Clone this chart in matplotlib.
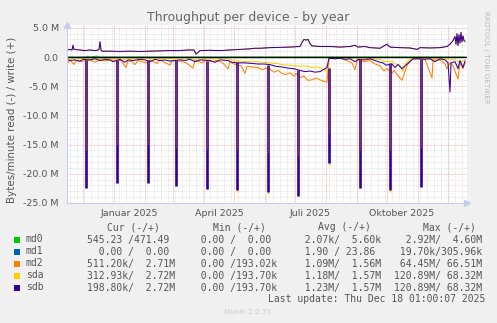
import matplotlib
matplotlib.use('Agg')
import matplotlib.pyplot as plt
import matplotlib.dates as mdates
from matplotlib.patches import Rectangle
import numpy as np

# day offsets are counted from 2024-11-14, values are in millions of bytes/minute
start_date = '2024-11-14'

# write (+): md2, sda and sdb lie on top of each other
write_days = [1, 4, 6, 7, 8, 14, 19, 24, 29, 32, 33, 34, 35, 36, 44, 54, 64, 74, 84, 94,
              104, 114, 122, 128, 130, 132, 134, 144, 154, 164, 174, 184, 189, 194, 204, 214,
              224, 234, 236, 238, 240, 242, 244, 246, 254, 264, 274, 284, 289, 292, 299, 304,
              314, 321, 324, 334, 344, 351, 354, 364, 374, 381, 384, 387, 389, 390, 391, 392,
              393, 394, 395, 396, 397, 398, 399]
write_vals = [1.2, 1.3, 1.2, 2.0, 1.3, 1.2, 1.1, 1.2, 1.1, 1.2, 1.3, 2.6, 1.2, 1.0, 1.0, 0.95,
              1.0, 0.95, 1.0, 1.05, 1.1, 1.1, 1.2, 1.2, 0.5, 0.8, 1.1, 1.15, 1.1, 1.2, 1.3, 1.4,
              1.5, 1.5, 1.6, 1.65, 1.7, 1.8, 2.5, 3.0, 2.9, 3.0, 2.3, 1.9, 1.8, 1.8, 1.7, 1.8,
              2.0, 1.7, 1.8, 1.6, 1.5, 2.2, 1.7, 1.6, 1.55, 1.3, 1.6, 1.55, 1.6, 1.8, 2.2, 2.8,
              3.5, 2.2, 4.0, 2.0, 3.8, 2.4, 4.2, 2.6, 3.6, 2.8, 2.7]

md0_days = [1, 20, 22, 24, 31, 33, 60, 200, 399]
md0_vals = [0.0, 0.0, 0.15, 0.0, 0.15, 0.0, 0.0, 0.0, 0.0]
md1_days = [1, 399]
md1_vals = [0.0, 0.0]

# read (-) baselines
md2_days = [0, 2, 4, 8, 10, 14, 24, 29, 34, 38, 44, 55, 60, 62, 66, 69, 72, 80, 84, 91, 94,
            104, 106, 114, 120, 127, 129, 136, 140, 146, 150, 156, 162, 164, 168, 175, 179,
            181, 186, 192, 196, 200, 204, 208, 212, 216, 220, 224, 228, 230, 234, 238, 242,
            246, 250, 254, 258, 261, 263, 269, 274, 279, 286, 289, 291, 299, 304, 309, 314,
            318, 321, 326, 328, 332, 336, 338, 341, 344, 349, 359, 366, 367, 374, 379, 381,
            384, 387, 392, 394, 397, 399]
md2_vals = [-0.6, -1.0, -0.5, -1.3, -0.6, -0.8, -0.5, -0.9, -0.5, -0.7, -0.5, -0.6, -1.8,
            -0.7, -0.8, -1.3, -0.6, -1.0, -0.5, -1.1, -0.5, -1.4, -0.6, -0.7, -1.0, -1.9,
            -0.6, -1.0, -0.6, -0.8, -0.6, -0.9, -2.0, -0.8, -1.2, -1.5, -2.8, -1.6, -1.7,
            -1.8, -2.2, -1.9, -2.1, -2.6, -2.3, -2.8, -3.0, -2.7, -3.3, -2.8, -3.5, -3.3,
            -4.0, -3.9, -3.6, -3.9, -4.2, -4.3, -0.2, -0.3, -0.2, -0.5, -1.0, -2.2, -0.6,
            -0.8, -0.6, -1.2, -1.5, -2.4, -2.0, -2.8, -2.3, -3.2, -4.0, -3.0, -1.5, -0.6,
            -0.3, -0.4, -3.6, -0.5, -0.5, -1.2, -2.0, -1.0, -1.5, -3.8, -1.0, -2.0, -1.0]

sda_days = [0, 9, 19, 29, 39, 47, 59, 69, 79, 89, 99, 109, 119, 129, 139, 149, 159, 166,
            174, 182, 190, 198, 204, 210, 216, 222, 228, 234, 240, 246, 252, 256, 260, 261,
            263, 274, 284, 295, 304, 314, 319, 326, 329, 334, 337, 340, 344, 349, 359, 369,
            379, 384, 389, 394, 399]
sda_vals = [-0.3, -0.2, -0.3, -0.2, -0.3, -0.2, -0.4, -0.3, -0.2, -0.3, -0.2, -0.3, -0.2,
            -0.4, -0.3, -0.3, -0.2, -0.5, -0.7, -0.8, -0.8, -0.9, -1.0, -1.1, -1.3, -1.4,
            -1.5, -1.6, -1.5, -1.8, -1.7, -2.0, -2.4, -2.6, -0.1, -0.1, -0.2, -0.2, -0.3,
            -0.4, -0.8, -0.7, -1.2, -1.4, -2.5, -1.0, -0.4, -0.2, -0.2, -0.3, -0.3, -0.5,
            -0.4, -1.0, -0.5]

sdb_days = [0, 4, 9, 14, 17, 24, 29, 34, 39, 44, 47, 54, 59, 62, 67, 74, 79, 84, 89, 94,
            99, 104, 114, 119, 124, 129, 134, 144, 149, 154, 162, 166, 172, 179, 186, 192,
            198, 204, 210, 216, 222, 228, 234, 239, 244, 249, 254, 259, 261, 263, 269, 274,
            279, 284, 289, 292, 299, 304, 309, 314, 317, 320, 326, 329, 332, 336, 339, 344,
            347, 352, 359, 364, 369, 374, 379, 382, 384, 385, 389, 392, 394, 397, 399]
sdb_vals = [-0.4, -0.6, -0.5, -0.7, -0.4, -0.5, -0.3, -0.6, -0.4, -0.5, -0.8, -0.4, -0.9,
            -0.5, -0.6, -0.4, -0.5, -0.8, -0.4, -0.6, -0.5, -0.7, -0.5, -0.6, -0.4, -0.8,
            -0.5, -0.6, -0.9, -0.5, -0.6, -0.9, -1.0, -1.0, -1.1, -1.2, -1.2, -1.3, -1.6,
            -1.7, -1.9, -2.0, -2.3, -2.5, -2.4, -2.6, -2.5, -2.0, -1.8, -0.2, -0.3, -0.2,
            -0.4, -0.3, -0.8, -0.4, -0.5, -0.3, -0.6, -0.9, -1.0, -1.4, -1.2, -1.8, -1.3,
            -2.0, -1.5, -0.8, -0.3, -0.3, -0.4, -0.3, -0.8, -0.3, -0.5, -1.0, -6.0, -1.0,
            -0.8, -2.0, -0.6, -1.8, -0.7]

# monthly read spikes (RAID check): day, level the spike starts from, depth
spike_days = [19, 50, 81, 109, 140, 170, 201, 231, 262, 293, 323, 354]
spike_base = [-0.5, -0.5, -0.5, -0.5, -0.6, -0.9, -1.3, -2.3, -1.8, -0.4, -1.0, -0.3]
sdb_spike = [-22.4, -21.6, -21.6, -22.1, -22.6, -22.8, -23.1, -23.8, -18.2, -22.4, -22.8, -22.2]
sda_spike = [-22.4, -21.6, -21.6, -22.1, -22.6, -23.1, -23.4, -23.8, -18.5, -22.4, -23.1, -22.2]
md2_spike = [-16.0, -15.0, -15.0, -15.5, -16.0, -16.0, -16.5, -17.0, -13.0, -16.0, -16.0, -15.5]

colors = {'md0': '#00CC00', 'md1': '#0066B3', 'md2': '#FF8000', 'sda': '#FFCC00', 'sdb': '#330099'}

names = ['md0', 'md1', 'md2', 'sda', 'sdb']
cur_txt = ['545.23 /471.49 ', '  0.00 /  0.00 ', '511.20k/  2.71M', '312.93k/  2.72M', '198.80k/  2.72M']
min_txt = ['  0.00 /  0.00 ', '  0.00 /  0.00 ', '  0.00 /193.02k', '  0.00 /193.70k', '  0.00 /193.70k']
avg_txt = ['  2.07k/  5.60k', '  1.90 / 23.86 ', '  1.09M/  1.56M', '  1.18M/  1.57M', '  1.23M/  1.57M']
max_txt = ['  2.92M/  4.60M', ' 19.70k/305.96k', ' 64.45M/ 66.51M', '120.89M/ 68.32M', '120.89M/ 68.32M']

W, H = 497, 323
BG = '#F0F0F0'
TXT = '#555555'


def fx(px):
    return px / W


def fy(py):
    return 1 - py / H


t0 = mdates.date2num(np.datetime64(start_date))


def days(d):
    return t0 + np.asarray(d, float)


def spike_path(depths, offset=0.5):
    # one vertical stroke per spike, separated by NaN
    xs, ys = [], []
    for s, b, v in zip(spike_days, spike_base, depths):
        xs += [s + offset, s + offset, np.nan]
        ys += [b, v, np.nan]
    return days(xs), np.array(ys)


fig = plt.figure(figsize=(W / 100, H / 100), dpi=100, facecolor=BG)
ax = fig.add_axes([fx(67), fy(203), 400 / W, 178 / H])
ax.set_facecolor('white')

x0 = t0 + 1
x1 = t0 + 401
ax.set_xlim(x0, x1)
ax.set_ylim(-25, 5.48)

# grid
for y in range(-25, 6):
    if y % 5:
        ax.axhline(y, color='#DDDDDD', lw=0.6, ls=(0, (1, 1)), zorder=0)
    else:
        ax.axhline(y, color='#F0A8A8', lw=0.6, ls=(0, (1, 1)), zorder=0)
d0, d1 = mdates.num2date(x0), mdates.num2date(x1)
for d in mdates.WeekdayLocator(byweekday=mdates.MO).tick_values(d0, d1):
    ax.axvline(d, color='#DDDDDD', lw=0.6, ls=(0, (1, 1)), zorder=0)
for d in mdates.MonthLocator().tick_values(d0, d1):
    ax.axvline(d, color='#F0A8A8', lw=0.6, ls=(0, (1, 1)), zorder=0)

lw = 0.75
ax.plot(days(md0_days), md0_vals, color=colors['md0'], lw=lw)
ax.plot(days(md1_days), md1_vals, color=colors['md1'], lw=lw)

# md2
ax.plot(days(write_days), write_vals, color=colors['md2'], lw=0.5)
ax.plot(days(md2_days), md2_vals, color=colors['md2'], lw=lw)
# sda
ax.plot(days(write_days), write_vals, color=colors['sda'], lw=0.5)
ax.plot(days(sda_days), sda_vals, color=colors['sda'], lw=lw)
ax.plot(*spike_path(sda_spike), color=colors['sda'], lw=1.0, solid_capstyle='butt')
# sdb
ax.plot(days(write_days), write_vals, color=colors['sdb'], lw=lw)
ax.plot(days(sdb_days), sdb_vals, color=colors['sdb'], lw=lw)
ax.plot(*spike_path(sdb_spike), color=colors['sdb'], lw=1.9, solid_capstyle='butt')
# the md2 part of the spikes shows through as a lighter core
ax.plot(*spike_path(md2_spike), color=colors['md2'], lw=0.6, alpha=0.45, solid_capstyle='butt')

ax.axhline(0, color='black', lw=1.0)

# axes styling
for s in ['top', 'right']:
    ax.spines[s].set_visible(False)
for s in ['left', 'bottom']:
    ax.spines[s].set_color('#C8CCF0')
    ax.spines[s].set_linewidth(0.8)
ax.plot([0], [1.0], marker='^', color='#C8CCF0', ms=4, transform=ax.transAxes, clip_on=False)
ax.plot([1.0], [0], marker='>', color='#C8CCF0', ms=4, transform=ax.transAxes, clip_on=False)

yt = [5, 0, -5, -10, -15, -20, -25]
ax.set_yticks(yt)
ax.set_yticklabels(['0.0' if v == 0 else '%.1f M' % v for v in yt])
label_days = ['2025-01-16', '2025-04-16', '2025-07-16', '2025-10-16']
label_txt = ['Januar 2025', 'April 2025', 'Juli 2025', 'Oktober 2025']
ax.set_xticks([mdates.date2num(np.datetime64(d)) for d in label_days])
ax.set_xticklabels(label_txt)
ax.tick_params(axis='both', length=0, labelsize=6.8, colors=TXT)
ax.tick_params(axis='y', pad=6)
ax.tick_params(axis='x', pad=4)

fig.text(fx(248), fy(18), 'Throughput per device - by year', ha='center', va='center',
         fontsize=9.0, color='#666666')
fig.text(fx(12), fy(120), 'Bytes/minute read (-) / write (+)', ha='center', va='center',
         rotation=90, fontsize=7.4, color=TXT)
fig.text(fx(486), fy(57), 'RRDTOOL / TOBI OETIKER', ha='center', va='center',
         rotation=270, fontsize=5.2, color='#BBBBBB')

# legend table
mono = 'DejaVu Sans Mono'
fs = 7.0
col_x = [87.3, 189.3, 292.6, 394.5]
head_x = [107.3, 213.3, 317.7, 422.7]
heads = ['Cur (-/+)', 'Min (-/+)', 'Avg (-/+)', 'Max (-/+)']
for hx, h in zip(head_x, heads):
    fig.text(fx(hx), fy(227), h, ha='left', va='center', family=mono, fontsize=fs, color=TXT)
row_y = [239.5, 251.5, 263.5, 275.5, 287.5]
for i, n in enumerate(names):
    ry = row_y[i]
    fig.add_artist(Rectangle((fx(13.5), fy(ry + 3)), 6 / W, 6 / H, transform=fig.transFigure,
                             facecolor=colors[n], edgecolor='none'))
    fig.text(fx(26), fy(ry), n, ha='left', va='center', family=mono, fontsize=fs, color=TXT)
    for cx, col in zip(col_x, [cur_txt, min_txt, avg_txt, max_txt]):
        fig.text(fx(cx), fy(ry), col[i], ha='left', va='center', family=mono, fontsize=fs, color=TXT)
fig.text(fx(485), fy(299.5), 'Last update: Thu Dec 18 01:00:07 2025', ha='right', va='center',
         family=mono, fontsize=fs, color=TXT)
fig.text(fx(248), fy(312), 'Munin 2.0.73', ha='center', va='center', fontsize=5.2, color='#CCCCCC')

fig.savefig('out.png', dpi=100, facecolor=BG)
